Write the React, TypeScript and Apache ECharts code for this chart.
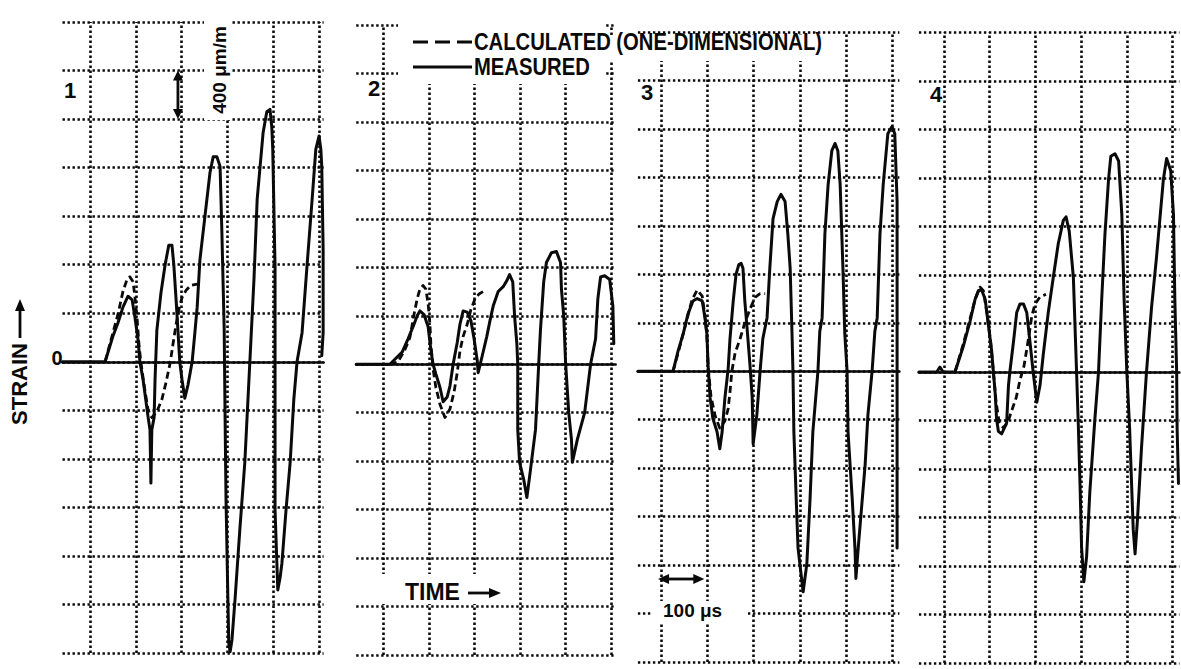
import React, { useEffect, useRef } from "react";
import * as echarts from "echarts";

type Pt = [number, number];

// Strain records: [time (μs), strain (μm/m)]
const measured1: Pt[] = [
  [-60, 0], [33, 0], [50, 210], [61, 320], [72, 450], [83, 540], [92, 510], [98, 370], [105, 180], [109, 0],
  [116, -150], [127, -460], [131, -560], [133, -1000], [135, -560], [140, -460], [142, -150], [146, 260], [155, 570],
  [164, 800], [172, 960], [179, 960], [183, 800], [188, 510], [192, 260], [196, 0], [201, -150], [207, -300],
  [214, -190], [223, 0], [229, 240], [234, 450], [240, 840], [251, 1200], [262, 1560], [269, 1690], [277, 1690],
  [284, 1610], [288, 1060], [293, 260], [295, -480], [297, -1140], [301, -1940], [303, -2320], [306, -2390],
  [310, -2290], [317, -1940], [327, -1390], [338, -830], [349, 0], [358, 680], [365, 1340], [378, 1890],
  [386, 2060], [393, 2080], [397, 1930], [399, 1750], [404, 780], [404, 0], [404, -1220], [408, -1660],
  [410, -1880], [415, -1780], [419, -1660], [428, -1220], [437, -830], [445, -310], [452, 0], [463, 240],
  [474, 800], [485, 1340], [493, 1750], [500, 1860], [504, 1750], [506, 1610], [509, 920], [509, 240], [506, 50],
];
const calculated1: Pt[] = [
  [33, 0], [48, 210], [61, 390], [72, 580], [81, 680], [87, 700], [94, 660], [98, 540], [103, 350], [107, 140],
  [111, 0], [118, -190], [127, -400], [135, -460], [146, -410], [157, -310], [166, -170], [175, -10], [181, 140],
  [188, 310], [194, 430], [201, 530], [210, 590], [220, 630], [234, 640],
];

const measured2: Pt[] = [
  [-60, 0], [14, 0], [41, 100], [54, 210], [65, 310], [74, 400], [80, 440], [89, 410], [98, 310], [104, 120],
  [109, 0], [115, -80], [124, -190], [131, -310], [140, -270], [146, -180], [153, 0], [162, 180], [168, 330],
  [175, 440], [184, 430], [192, 360], [199, 210], [206, 30], [208, -70], [217, 70], [227, 230], [234, 360],
  [241, 480], [252, 600], [263, 640], [271, 690], [277, 740], [284, 680], [288, 400], [293, 170], [295, 0],
  [295, -540], [299, -810], [308, -950], [315, -1100], [323, -870], [334, -540], [341, 0], [345, 290], [352, 680],
  [358, 840], [369, 920], [380, 930], [389, 840], [391, 620], [396, 400], [400, 20], [407, -400], [413, -620],
  [415, -810], [426, -620], [442, -400], [455, 0], [466, 210], [471, 540], [477, 720], [486, 730], [497, 700],
  [504, 480], [506, 170],
];
const calculated2: Pt[] = [
  [14, 0], [32, 20], [47, 120], [58, 220], [67, 410], [74, 540], [80, 620], [87, 650], [93, 620], [98, 500],
  [102, 330], [104, 170], [109, -40], [115, -190], [124, -330], [135, -440], [146, -370], [155, -230], [162, -70],
  [168, 110], [175, 230], [184, 330], [192, 450], [201, 540], [210, 580], [219, 600],
];

const measured3: Pt[] = [
  [-50, 0], [26, 0], [37, 170], [48, 310], [58, 470], [69, 580], [78, 600], [89, 580], [95, 440], [99, 310],
  [102, 20], [106, -220], [112, -390], [121, -500], [127, -640], [132, -500], [138, -220], [145, 20], [149, 270],
  [156, 580], [162, 800], [168, 880], [173, 890], [177, 850], [181, 580], [186, 350], [192, 60], [197, -220],
  [199, -600], [207, -360], [214, 0], [220, 270], [229, 440], [235, 850], [242, 1260], [251, 1400], [259, 1460],
  [268, 1400], [274, 1130], [279, 850], [283, 310], [285, 0], [287, -500], [292, -1050], [296, -1460],
  [307, -1820], [315, -1590], [322, -1050], [328, -500], [339, 0], [343, 330], [348, 440], [354, 1130],
  [361, 1540], [369, 1820], [376, 1880], [382, 1820], [387, 1540], [393, 850], [397, 310], [402, 0], [404, -500],
  [413, -1050], [419, -1460], [421, -1710], [426, -1460], [441, -770], [447, -360], [456, 0], [462, 330],
  [467, 440], [473, 1130], [480, 1540], [490, 1960], [499, 2020], [505, 1960], [510, 1400], [510, 310], [510, 0],
  [510, -770], [510, -1460],
];
const calculated3: Pt[] = [
  [26, 0], [41, 210], [56, 430], [67, 590], [78, 670], [89, 620], [95, 450], [99, 290], [102, 20], [108, -210],
  [117, -370], [127, -470], [138, -410], [145, -310], [149, -170], [153, 0], [160, 150], [171, 270], [181, 400],
  [192, 510], [203, 610], [214, 640], [225, 640],
];

const measured4: Pt[] = [
  [-55, 0], [-16, 0], [-9, 40], [-2, 0], [24, 0], [42, 210], [57, 420], [68, 600], [75, 670], [82, 680], [90, 600],
  [97, 390], [104, 180], [108, 0], [112, -180], [115, -390], [119, -490], [126, -510], [137, -420], [141, -110],
  [144, 0], [152, 250], [159, 490], [166, 560], [174, 560], [181, 490], [188, 250], [195, 0], [203, -250],
  [210, -110], [217, 140], [228, 490], [239, 780], [250, 1060], [261, 1250], [267, 1280], [274, 1160], [283, 780],
  [290, 0], [294, -460], [298, -990], [301, -1450], [306, -1730], [312, -1520], [319, -990], [330, -390], [338, 0],
  [345, 600], [352, 1130], [360, 1590], [365, 1780], [374, 1800], [382, 1740], [389, 1300], [394, 600], [400, 0],
  [406, -460], [411, -990], [414, -1300], [418, -1500], [423, -1230], [432, -630], [443, 0], [454, 530], [465, 950],
  [480, 1590], [487, 1760], [496, 1660], [502, 1300], [505, 600], [509, 0], [510, -460], [513, -920],
];
const calculated4: Pt[] = [
  [24, 0], [42, 230], [57, 440], [68, 600], [79, 700], [86, 670], [95, 460], [102, 250], [108, 0], [114, -250],
  [121, -420], [130, -460], [139, -420], [148, -320], [158, -210], [166, -70], [175, 50], [185, 280], [192, 460],
  [199, 560], [210, 620], [223, 640],
];

const measuredRecords = [measured1, measured2, measured3, measured4];
const calculatedRecords = [calculated1, calculated2, calculated3, calculated4];
const panelNames = ["1", "2", "3", "4"];
const timeGrid = [0, 100, 200, 300, 400, 500];
const timeMin = [-60, -60, -50, -55];
const timeMax = [510, 510, 515, 515];
const strainMin = -2400;
const strainMax = 2800;
const strainStep = 400;

const INK = "#0a0a0a";
const FONT = '"Liberation Sans", Arial, Helvetica, sans-serif';

// pixel boxes of the four oscillogram panels
const panels = [
  { left: 62.5, top: 22, width: 261.1, height: 631 },
  { left: 356.2, top: 25, width: 259.4, height: 630 },
  { left: 637.9, top: 32, width: 261.5, height: 630 },
  { left: 918.9, top: 32.5, width: 260.5, height: 630.5 },
];

function toPx(i: number, t: number, s: number): [number, number] {
  const p = panels[i];
  const x = p.left + ((t - timeMin[i]) / (timeMax[i] - timeMin[i])) * p.width;
  const y = p.top + ((strainMax - s) / (strainMax - strainMin)) * p.height;
  return [x, y];
}

// heavy dotted graticule
const dotted = { color: INK, width: 2.6, type: [2.4, 2.6] as number[] };

function text(str: string, x: number, y: number, size: number, opts: any = {}) {
  const align = opts.align || "left";
  return {
    type: "text",
    x,
    y,
    z: 60,
    rotation: opts.rotation || 0,
    scaleX: opts.scaleX || 1,
    silent: true,
    style: {
      text: str,
      fill: INK,
      fontSize: size,
      fontWeight: "bold",
      fontFamily: FONT,
      align,
      verticalAlign: "middle",
      textAlign: align,
      textVerticalAlign: "middle",
    },
  };
}

function blank(x: number, y: number, w: number, h: number) {
  return { type: "rect", z: 40, silent: true, shape: { x, y, width: w, height: h }, style: { fill: "#fff" } };
}

function seg(x1: number, y1: number, x2: number, y2: number, dash?: number[]) {
  return {
    type: "line",
    z: 60,
    silent: true,
    shape: { x1, y1, x2, y2 },
    style: { stroke: INK, lineWidth: 2.8, lineDash: dash || null },
  };
}

// filled arrow head whose tip is at (x, y), pointing along (dx, dy)
function head(x: number, y: number, dx: number, dy: number, len = 10, half = 4.5) {
  const bx = x - dx * len;
  const by = y - dy * len;
  return {
    type: "polygon",
    z: 61,
    silent: true,
    shape: { points: [[x, y], [bx - dy * half, by + dx * half], [bx + dy * half, by - dx * half]] },
    style: { fill: INK },
  };
}

function buildGraphics() {
  const g: any[] = [];
  // clear the grid under the annotations
  g.push(blank(204, 16, 28, 104));
  g.push(blank(398, 14, 208, 70));
  g.push(blank(606, 35, 220, 26));
  g.push(blank(370, 574, 135, 30));
  g.push(blank(652, 601, 96, 21));

  const labelPos: Pt[] = [[70, 90], [374, 88], [647, 92], [936, 94]];
  panelNames.forEach((n, i) => g.push(text(n, labelPos[i][0], labelPos[i][1], 22, { align: "center" })));

  // strain axis
  g.push(text("0", 57, 358, 20, { align: "center" }));
  g.push(text("STRAIN", 19, 384, 22, { align: "center", rotation: Math.PI / 2 }));
  g.push(seg(20, 338, 20, 310));
  g.push(head(20, 299, 0, -1, 12, 5));

  // strain scale: one division
  const [ax, ay1] = toPx(0, 192, 2400);
  const [, ay2] = toPx(0, 192, 2000);
  g.push(seg(ax, ay1 + 8, ax, ay2 - 8));
  g.push(head(ax, ay1, 0, -1, 10, 5));
  g.push(head(ax, ay2, 0, 1, 10, 5));
  g.push(text("400 μm/m", 219, 70, 19, { align: "center", rotation: Math.PI / 2 }));

  // legend
  g.push(seg(413, 42, 472, 42, [15, 7]));
  g.push(text("CALCULATED (ONE-DIMENSIONAL)", 474, 42, 23, { scaleX: 0.88 }));
  g.push(seg(413, 67, 472, 67));
  g.push(text("MEASURED", 474, 67, 23, { scaleX: 0.88 }));

  // time axis
  g.push(text("TIME", 405, 592, 23));
  g.push(seg(468, 593, 490, 593));
  g.push(head(501, 593, 1, 0, 12, 5));

  // time scale: one division
  const [tx1] = toPx(2, 0, 0);
  const [tx2] = toPx(2, 100, 0);
  g.push(seg(tx1 + 8, 579, tx2 - 8, 579));
  g.push(head(tx1 - 3, 579, -1, 0, 11, 5));
  g.push(head(tx2 - 3, 579, 1, 0, 11, 5));
  g.push(text("100 μs", 663, 610, 19));
  return g;
}

export default function App() {
  const ref = useRef<HTMLDivElement>(null);

  useEffect(() => {
    if (!ref.current) return;
    const chart = echarts.init(ref.current, undefined, { renderer: "svg" });

    const grid = panels.map((p) => ({
      left: p.left,
      top: p.top,
      width: p.width,
      height: p.height,
      containLabel: false,
      outerBoundsMode: "none",
    }));

    const xAxis = panels.map((_, i) => ({
      type: "value",
      gridIndex: i,
      min: timeMin[i],
      max: timeMax[i],
      axisLine: { show: true, onZero: true, lineStyle: { color: INK, width: 2.6 } },
      axisTick: { show: false },
      axisLabel: { show: false },
      splitLine: { show: false },
    }));

    const yAxis = panels.map((_, i) => ({
      type: "value",
      gridIndex: i,
      min: strainMin,
      max: strainMax,
      interval: strainStep,
      axisLine: { show: false },
      axisTick: { show: false },
      axisLabel: { show: false },
      splitLine: { show: true, lineStyle: dotted },
    }));

    const series: any[] = [];
    panels.forEach((_, i) => {
      series.push({
        name: "MEASURED",
        type: "line",
        xAxisIndex: i,
        yAxisIndex: i,
        data: measuredRecords[i],
        symbol: "none",
        silent: true,
        z: 4,
        lineStyle: { color: INK, width: 3, join: "round", cap: "round" },
        markLine: {
          silent: true,
          symbol: ["none", "none"],
          label: { show: false },
          lineStyle: dotted,
          data: timeGrid.map((t) => ({ xAxis: t })),
        },
      });
      series.push({
        name: "CALCULATED (ONE-DIMENSIONAL)",
        type: "line",
        xAxisIndex: i,
        yAxisIndex: i,
        data: calculatedRecords[i],
        symbol: "none",
        silent: true,
        z: 4,
        lineStyle: { color: INK, width: 2.8, type: [7, 4], join: "round" },
      });
    });

    chart.setOption({
      animation: false,
      backgroundColor: "#fff",
      grid,
      xAxis,
      yAxis,
      series,
      graphic: { elements: buildGraphics() },
    });

    return () => chart.dispose();
  }, []);

  return (
    <div
      ref={ref}
      style={{ position: "fixed", left: 0, top: 0, width: 1181, height: 669, background: "#fff" }}
    />
  );
}
